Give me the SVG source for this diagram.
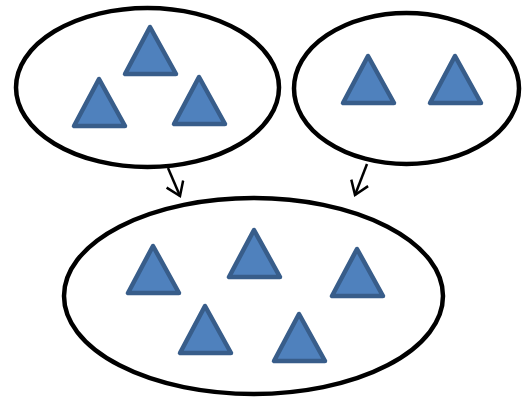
<svg xmlns="http://www.w3.org/2000/svg" width="530" height="400" viewBox="0 0 530 400">
<style>
.set{fill:#fff;stroke:#000;stroke-width:4.5}
.tri{fill:#4f81bd;stroke:#385d8a;stroke-width:4.5;stroke-linejoin:round}
.conn{fill:none;stroke:#000;stroke-width:2.5}
</style>
<defs>
<marker id="arr" viewBox="0 0 17 20" refX="15" refY="10" markerWidth="17" markerHeight="20" markerUnits="userSpaceOnUse" orient="auto">
<path d="M2,1 L15,10 L2,19" fill="none" stroke="#000" stroke-width="2.5"/>
</marker>
</defs>
<rect width="530" height="400" fill="#fff"/>
<g id="setA">
<ellipse class="set" cx="147.5" cy="87.5" rx="131.5" ry="79.5"/>
<polygon class="tri" points="150,27 125,74 176,74"/>
<polygon class="tri" points="99,79 74,126 125,126"/>
<polygon class="tri" points="199,77 174,124 225,124"/>
</g>
<g id="setB">
<ellipse class="set" cx="406.5" cy="88.5" rx="112.5" ry="75.5"/>
<polygon class="tri" points="368,56 343,103 394,103"/>
<polygon class="tri" points="455,56 430,103 481,103"/>
</g>
<g id="setC">
<ellipse class="set" cx="253.5" cy="296" rx="189.5" ry="98"/>
<polygon class="tri" points="153,246 128,293 179,293"/>
<polygon class="tri" points="254,230 229,277 280,277"/>
<polygon class="tri" points="357,249 332,296 383,296"/>
<polygon class="tri" points="205,306 180,353 231,353"/>
<polygon class="tri" points="299,314 274,361 325,361"/>
</g>
<g id="connectors">
<line class="conn" x1="168" y1="168" x2="180" y2="196" marker-end="url(#arr)"/>
<line class="conn" x1="367" y1="164" x2="355" y2="195" marker-end="url(#arr)"/>
</g>
</svg>
